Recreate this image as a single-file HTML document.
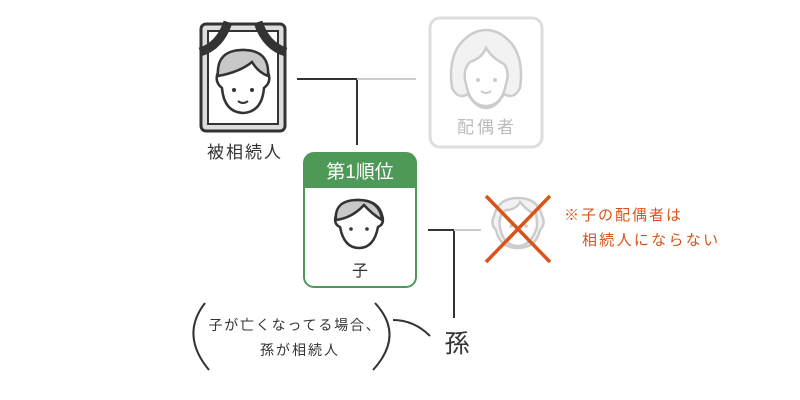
<!DOCTYPE html>
<html><head><meta charset="utf-8"><style>
html,body{margin:0;padding:0;background:#fff;}
svg{display:block;font-family:"Liberation Sans","Noto Sans CJK JP",sans-serif;}
</style></head><body>
<svg width="800" height="400" viewBox="0 0 800 400" xmlns="http://www.w3.org/2000/svg">
<rect x="201" y="24" width="84" height="107" rx="5" fill="#ddd" stroke="#333" stroke-width="3"/>
<rect x="208" y="31" width="70" height="93" fill="#fff" stroke="#333" stroke-width="2"/>
<path d="M200 52 Q220 46 228 22 M286 52 Q266 46 258 22" stroke="#333" stroke-width="9" fill="none"/>
<g stroke="#333" stroke-width="2.5">
<path d="M222 88 Q214 82 218 72 Q222 50 243 50 Q264 50 268 72 Q272 82 264 88 Q262 112 243 113 Q224 112 222 88Z" fill="#fff"/>
<path d="M218 76 Q216 50 243 50 Q270 50 268 76 Q258 72 252 62 Q240 72 218 76Z" fill="#c8c8c8"/>
</g>
<circle cx="234" cy="90" r="2" fill="#333"/><circle cx="252" cy="90" r="2" fill="#333"/>
<path d="M238 101 Q243 105 248 101" stroke="#333" stroke-width="2" fill="none"/>
<text x="245" y="158" font-size="17" text-anchor="middle" letter-spacing="2" fill="#333">被相続人</text>
<path d="M297 79 H357 V145" stroke="#333" stroke-width="2" fill="none"/>
<path d="M357 79 H416" stroke="#ccc" stroke-width="2"/>
<rect x="430" y="18" width="112" height="129" rx="10" fill="#fff" stroke="#ddd" stroke-width="3"/>
<g stroke="#ccc" stroke-width="2.5">
<path d="M452 88 Q448 60 460 44 Q472 30 486 30 Q500 30 512 44 Q524 60 520 88 Q514 100 504 94 Q496 108 486 108 Q476 108 468 94 Q458 100 452 88Z" fill="#f2f2f2"/>
<path d="M466 84 Q462 70 470 62 Q482 58 486 48 Q492 58 504 64 Q510 72 506 84 Q502 106 486 106 Q470 106 466 84Z" fill="#fff"/>
</g>
<circle cx="478" cy="80" r="2" fill="#ccc"/><circle cx="495" cy="80" r="2" fill="#ccc"/>
<path d="M481 91 Q486 95 491 91" stroke="#ccc" stroke-width="2" fill="none"/>
<text x="487" y="133" font-size="17" text-anchor="middle" letter-spacing="3" fill="#bbb">配偶者</text>
<rect x="304" y="153" width="112" height="134" rx="10" fill="#fff" stroke="#4e9957" stroke-width="2"/>
<path d="M304 188 V163 Q304 153 314 153 H406 Q416 153 416 163 V188Z" fill="#4e9957"/>
<text x="360" y="178" font-size="19" text-anchor="middle" fill="#fff">第1順位</text>
<g stroke="#333" stroke-width="2.5">
<path d="M340 227 Q333 224 336 215 Q338 200 358 200 Q378 200 382 215 Q385 224 378 227 Q374 248 359 248 Q344 248 340 227Z" fill="#fff"/>
<path d="M336 220 Q334 200 358 200 Q380 200 382 220 Q372 214 364 205 Q352 218 336 220Z" fill="#c8c8c8"/>
</g>
<circle cx="351" cy="229" r="1.8" fill="#333"/><circle cx="367" cy="229" r="1.8" fill="#333"/>
<text x="360" y="276" font-size="16" text-anchor="middle" fill="#333">子</text>
<path d="M428 230 H454 V318" stroke="#333" stroke-width="2" fill="none"/>
<path d="M454 230 H481" stroke="#ccc" stroke-width="2"/>
<g stroke="#ccc" stroke-width="2.5">
<path d="M496 230 Q490 224 494 216 Q498 198 518 198 Q538 198 542 216 Q546 224 540 230 Q536 248 518 248 Q500 248 496 230Z" fill="#f2f2f2"/>
<path d="M500 228 Q498 214 506 210 Q516 210 520 202 Q528 212 536 214 Q538 226 536 230 Q530 246 518 246 Q504 246 500 228Z" fill="#fff"/>
</g>
<circle cx="511" cy="226" r="1.8" fill="#ccc"/><circle cx="526" cy="226" r="1.8" fill="#ccc"/>
<path d="M486 196 L550 262 M550 196 L486 262" stroke="#d9541a" stroke-width="3.5"/>
<text x="564" y="220" font-size="15" letter-spacing="2" fill="#d9541a">※子の配偶者は</text>
<text x="582" y="245" font-size="15" letter-spacing="2.3" fill="#d9541a">相続人にならない</text>
<path d="M205 303 Q180 335 209 370" stroke="#333" stroke-width="2" fill="none"/>
<path d="M375 303 Q405 335 373 370" stroke="#333" stroke-width="2" fill="none"/>
<path d="M393 320 Q414 320 430 336" stroke="#333" stroke-width="2" fill="none"/>
<text x="295" y="330" font-size="14" text-anchor="middle" letter-spacing="1.8" fill="#333">子が亡くなってる場合、</text>
<text x="300" y="355" font-size="14" text-anchor="middle" letter-spacing="2" fill="#333">孫が相続人</text>
<text x="457" y="352" font-size="25" text-anchor="middle" fill="#333">孫</text>
</svg>
</body></html>
